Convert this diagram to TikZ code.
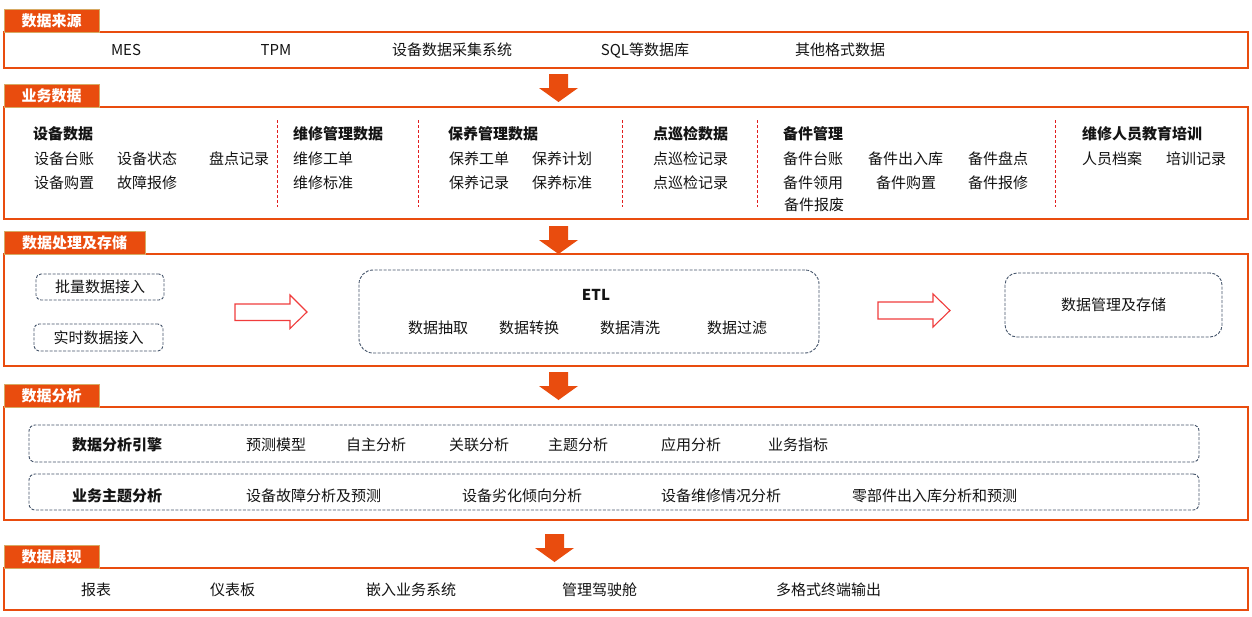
\documentclass[tikz,border=0pt]{standalone}
\usepackage{fontspec}
\setmainfont{Noto Sans CJK SC}
\definecolor{org}{RGB}{233,76,14}
\definecolor{tanb}{RGB}{214,170,100}
\definecolor{sepred}{RGB}{225,30,30}
\definecolor{slate}{RGB}{68,84,106}
\definecolor{hred}{RGB}{240,60,60}
\definecolor{ink}{RGB}{20,20,20}
\newcommand\secbox[5]{%
  \draw[secline] (4,{#3+23}) rectangle (1248,#4);
  \draw[tabst] (4,#3) rectangle (#2,{#3+23});
  \node[tabtxt] (#1) at ({(4+#2)/2},{#3+11.5}) {#5};
}
\newcommand\downarr[3]{%
  \coordinate (#1) at (#2,#3);
  \fill[org] ([xshift=-9.5pt]#1) -- ([xshift=9.5pt]#1) -- ([xshift=9.5pt,yshift=-14pt]#1)
    -- ([xshift=19.5pt,yshift=-14pt]#1) -- ([yshift=-28pt]#1) -- ([xshift=-19.5pt,yshift=-14pt]#1)
    -- ([xshift=-9.5pt,yshift=-14pt]#1) -- cycle;
}
\begin{document}
\begin{tikzpicture}[x=1pt,y=-1pt,
  txt/.style={font=\fontsize{15}{18}\selectfont, text=ink, inner sep=0pt, text height=13pt, text depth=1.6pt},
  lt/.style={txt,anchor=west},
  hd/.style={lt,font=\fontsize{15}{18}\selectfont\bfseries},
  secline/.style={draw=org, line width=1.1pt},
  tabst/.style={fill=org, draw=tanb, line width=0.9pt},
  tabtxt/.style={font=\fontsize{15}{18}\selectfont\bfseries, text=white, inner sep=0pt, text height=13pt, text depth=1.6pt},
  sep/.style={draw=sepred, dashed, dash pattern=on 3pt off 2pt, line width=0.8pt},
  dbox/.style={draw=slate, dash pattern=on 3pt off 1.5pt, line width=0.9pt, rounded corners=6pt, inner sep=0pt},
  hollow/.style={draw=hred, line width=1.1pt, fill=white, line join=miter}
]
\useasboundingbox (0,0) rectangle (1252,616);
\fill[white] (0,0) rectangle (1252,616);

% ---------- section 1
\secbox{t1}{99}{9}{68}{数据来源}
\node[txt] (s1a) at (126,50) {MES};
\node[txt] (s1b) at (276,50) {TPM};
\node[txt] (s1c) at (452,50) {设备数据采集系统};
\node[txt] (s1d) at (645,50) {SQL等数据库};
\node[txt] (s1e) at (840,50) {其他格式数据};

\downarr{a1}{558.5}{74}

% ---------- section 2
\secbox{t2}{99}{84}{219}{业务数据}
\node[hd] (g1) at (33,134) {设备数据};
\node[lt] (g1a) at (34,158.5) {设备台账};
\node[lt] (g1b) at (117,158.5) {设备状态};
\node[lt] (g1c) at (209,158.5) {盘点记录};
\node[lt] (g1d) at (34,183) {设备购置};
\node[lt] (g1e) at (117,183) {故障报修};
\draw[sep] (277.5,120) -- (277.5,207);
\node[hd] (g2) at (293,134) {维修管理数据};
\node[lt] (g2a) at (293,158.5) {维修工单};
\node[lt] (g2b) at (293,183) {维修标准};
\draw[sep] (418.5,120) -- (418.5,207);
\node[hd] (g3) at (448,134) {保养管理数据};
\node[lt] (g3a) at (449,158.5) {保养工单};
\node[lt] (g3b) at (532,158.5) {保养计划};
\node[lt] (g3c) at (449,183) {保养记录};
\node[lt] (g3d) at (532,183) {保养标准};
\draw[sep] (622.5,120) -- (622.5,207);
\node[hd] (g4) at (653,134) {点巡检数据};
\node[lt] (g4a) at (653,158.5) {点巡检记录};
\node[lt] (g4b) at (653,183) {点巡检记录};
\draw[sep] (757.5,120) -- (757.5,207);
\node[hd] (g5) at (783,134) {备件管理};
\node[lt] (g5a) at (783,158.5) {备件台账};
\node[lt] (g5b) at (868,158.5) {备件出入库};
\node[lt] (g5c) at (968,158.5) {备件盘点};
\node[lt] (g5d) at (783,183) {备件领用};
\node[lt] (g5e) at (876,183) {备件购置};
\node[lt] (g5f) at (968,183) {备件报修};
\node[lt] (g5g) at (784,204.5) {备件报废};
\draw[sep] (1055.5,120) -- (1055.5,207);
\node[hd] (g6) at (1082,134) {维修人员教育培训};
\node[lt] (g6a) at (1082,158.5) {人员档案};
\node[lt] (g6b) at (1166,158.5) {培训记录};

\downarr{a2}{558.5}{226}

% ---------- section 3
\secbox{t3}{145}{231}{366}{数据处理及存储}
\node[dbox, minimum width=128pt, minimum height=26pt, rounded corners=5pt] (batch) at (100,287) {};
\node[txt] (batcht) at (batch.center) {批量数据接入};
\node[dbox, minimum width=129pt, minimum height=27pt, rounded corners=5pt] (rt) at (98.5,337.5) {};
\node[txt] (rtt) at (rt.center) {实时数据接入};
\draw[hollow] (235,304) -- (290,304) -- (290,295) -- (307,312) -- (290,328.5) -- (290,320.5) -- (235,320.5) -- cycle;
\node[dbox, minimum width=460pt, minimum height=83pt, rounded corners=14pt] (etl) at (589,311.5) {};
\node[txt, font=\fontsize{15}{18}\selectfont\bfseries] (etlt) at (596,294.5) {ETL};
\node[txt] (e1) at (438,328) {数据抽取};
\node[txt] (e2) at (529,328) {数据转换};
\node[txt] (e3) at (630,328) {数据清洗};
\node[txt] (e4) at (737,328) {数据过滤};
\draw[hollow] (878,302) -- (933,302) -- (933,294) -- (950,310.5) -- (933,327) -- (933,319) -- (878,319) -- cycle;
\node[dbox, minimum width=217pt, minimum height=64pt, rounded corners=12pt] (store) at (1113.5,305) {};
\node[txt] (storet) at (store.center) {数据管理及存储};

\downarr{a3}{558.5}{372}

% ---------- section 4
\secbox{t4}{99}{384}{520}{数据分析}
\node[dbox, minimum width=1170pt, minimum height=37pt] (eng) at (614,443.5) {};
\node[dbox, minimum width=1170pt, minimum height=36pt] (biz) at (614,492) {};
\node[hd] (eng0) at (72,445) {数据分析引擎};
\node[lt] (eng1) at (246,445) {预测模型};
\node[lt] (eng2) at (346,445) {自主分析};
\node[lt] (eng3) at (449,445) {关联分析};
\node[lt] (eng4) at (548,445) {主题分析};
\node[lt] (eng5) at (661,445) {应用分析};
\node[lt] (eng6) at (768,445) {业务指标};
\node[hd] (biz0) at (72,495.5) {业务主题分析};
\node[lt] (biz1) at (246,495.5) {设备故障分析及预测};
\node[lt] (biz2) at (462,495.5) {设备劣化倾向分析};
\node[lt] (biz3) at (661,495.5) {设备维修情况分析};
\node[lt] (biz4) at (852,495.5) {零部件出入库分析和预测};

\downarr{a4}{554.5}{534}

% ---------- section 5
\secbox{t5}{99}{545}{610}{数据展现}
\node[lt] (d1) at (81,589.5) {报表};
\node[lt] (d2) at (210,589.5) {仪表板};
\node[lt] (d3) at (366,589.5) {嵌入业务系统};
\node[lt] (d4) at (562,589.5) {管理驾驶舱};
\node[lt] (d5) at (776,589.5) {多格式终端输出};
\end{tikzpicture}
\end{document}
